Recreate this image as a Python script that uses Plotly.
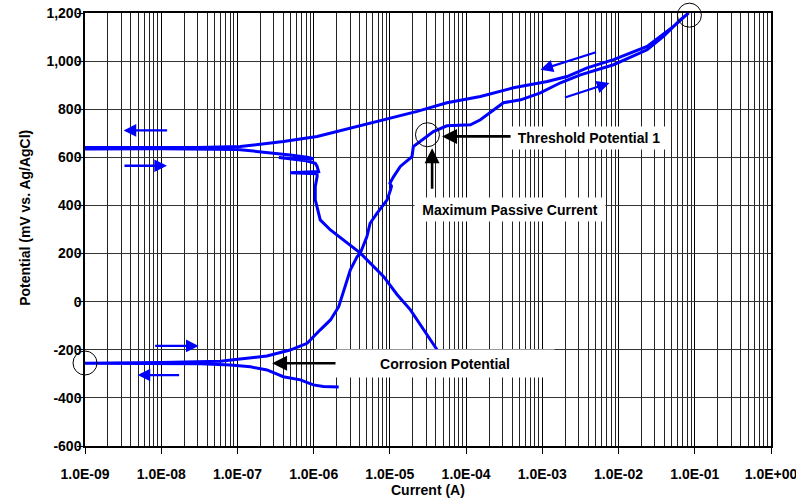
import math
import plotly.graph_objects as go

# ---- polarization curve (current in A, potential in mV vs Ag/AgCl), in scan order ----
current_A = [
    2.13e-6, 1.34e-6, 9.9e-7, 6.7e-7, 4.0e-7, 2.44e-7, 1.48e-7, 8.1e-8, 3.3e-8, 1.0e-8,
    1.0e-9, 1.0e-8, 3.0e-8, 6.0e-8, 8.8e-8, 2.44e-7, 4.9e-7, 8.2e-7, 1.22e-6, 1.66e-6,
    2.13e-6, 2.48e-6, 3.03e-6, 3.72e-6, 4.1e-6, 5.0e-6, 5.5e-6, 6.8e-6, 9.2e-6, 1.02e-5,
    1.05e-5, 1.0e-5, 1.12e-5, 1.37e-5, 1.95e-5, 2.03e-5, 3.08e-5, 3.72e-5, 5.6e-5, 1.14e-4,
    1.54e-4, 2.28e-4, 3.09e-4, 5.2e-4, 9.4e-4, 1.73e-3, 3.16e-3, 8.6e-3, 2.37e-2, 3.88e-2,
    6.5e-2, 8.3e-2,
    5.25e-2, 2.37e-2, 8.6e-3, 3.87e-3, 2.11e-3, 1.16e-3, 4.18e-4, 1.54e-4, 5.6e-5, 2.28e-5,
    8.2e-6, 3.03e-6, 1.11e-6, 4.0e-7, 1.48e-7, 1.09e-7, 3.0e-8, 1.0e-9, 1.0e-9, 1.0e-8,
    1.0e-7, 2.0e-7, 2.99e-7, 4.9e-7, 8.2e-7, 1.0e-6, 6.0e-7, 3.5e-7, 8.0e-7, 1.05e-6,
    1.11e-6, 1.16e-6, 4.9e-7, 1.11e-6, 1.11e-6, 1.05e-6, 1.05e-6, 1.22e-6, 1.66e-6, 2.48e-6,
    4.1e-6, 8.3e-6, 1.24e-5, 1.86e-5, 4.16e-5,
]
potential_mV = [
    -355, -353, -346, -325, -312, -284, -271, -263, -258, -257,
    -256, -253, -251, -248, -241, -226, -201, -173, -117, -76,
    -21, 49, 132, 187, 202, 271, 326, 368, 423, 465,
    480, 492, 520, 562, 603, 645, 687, 707, 731, 735,
    756, 798, 827, 839, 868, 910, 943, 985, 1047, 1103,
    1172, 1200,
    1144, 1061, 1006, 972, 936, 915, 889, 853, 827, 791,
    756, 723, 687, 666, 652, 645, 641, 641, 635, 636,
    633, 624, 618, 610, 600, 594, 593, 599, 586, 575,
    562, 541, 536, 532, 520, 479, 423, 340, 298, 257,
    202, 104, 30, -34, -200,
]

# ---- axis ticks ----
x_tick_vals = [1e-9, 1e-8, 1e-7, 1e-6, 1e-5, 1e-4, 1e-3, 1e-2, 1e-1, 1e0]
x_tick_text = ["1.0E-09", "1.0E-08", "1.0E-07", "1.0E-06", "1.0E-05",
               "1.0E-04", "1.0E-03", "1.0E-02", "1.0E-01", "1.0E+00"]
y_tick_vals = [-600, -400, -200, 0, 200, 400, 600, 800, 1000, 1200]
y_tick_text = ["-600", "-400", "-200", "0", "200", "400", "600", "800", "1,000", "1,200"]

# ---- highlighted points (open circles) ----
circle_I = [1e-9, 3.11e-5, 8.5e-2]
circle_E = [-255, 694, 1191]

# ---- blue scan-direction arrows: head (I, E) and tail offset (px) ----
blue_head_I = [3.21e-9, 1.19e-8, 3.1e-8, 4.9e-9, 9.44e-4, 7.6e-3]
blue_head_E = [712, 565, -184, -305, 964, 909]
blue_ax = [45, -44, -45, 43, 57, -46]
blue_ay = [0, 0, 0, 0, -18, 15]

# ---- black pointer arrows ----
black_head_I = [4.84e-5, 3.58e-5, 2.85e-7]
black_head_E = [687, 638, -256]
black_ax = [70, 0, 72]
black_ay = [0, 42, 0]

# ---- labels ----
label_text = ["Threshold Potential 1", "Maximum Passive Current", "Corrosion Potential"]
label_I = [4.08e-3, 3.8e-4, 5.35e-5]
label_E = [681, 384, -259]
label_w = [150, 186, 214]
label_h = [18, 19, 23]

FONT = "Liberation Sans, Arial, sans-serif"
BLUE = "#0000ff"

fig = go.Figure()
fig.add_trace(go.Scatter(
    x=current_A, y=potential_mV, mode="lines",
    line=dict(color=BLUE, width=3), showlegend=False, hoverinfo="skip",
))
fig.add_trace(go.Scatter(
    x=circle_I, y=circle_E, mode="markers", cliponaxis=False,
    marker=dict(symbol="circle-open", size=24, color="black", line=dict(width=1, color="black")),
    showlegend=False, hoverinfo="skip",
))

annotations = []
for i, e, ax, ay in zip(blue_head_I, blue_head_E, blue_ax, blue_ay):
    annotations.append(dict(
        x=math.log10(i), y=e, xref="x", yref="y", text="", showarrow=True,
        ax=ax, ay=ay, arrowhead=2, arrowsize=1.1, arrowwidth=2.3, arrowcolor=BLUE,
    ))
for i, e, ax, ay in zip(black_head_I, black_head_E, black_ax, black_ay):
    annotations.append(dict(
        x=math.log10(i), y=e, xref="x", yref="y", text="", showarrow=True,
        ax=ax, ay=ay, arrowhead=2, arrowsize=1.15, arrowwidth=2.6, arrowcolor="black",
    ))
for t, i, e, w, h in zip(label_text, label_I, label_E, label_w, label_h):
    annotations.append(dict(
        x=math.log10(i), y=e, xref="x", yref="y", text="<b>%s</b>" % t, showarrow=False,
        bgcolor="white", width=w, height=h, borderpad=2,
        font=dict(family=FONT, size=14, color="black"),
    ))
# axis titles
annotations.append(dict(
    x=-0.0875, y=0.527, xref="paper", yref="paper", text="<b>Potential (mV vs. Ag/AgCl)</b>",
    textangle=-90, showarrow=False, xanchor="center", yanchor="middle",
    font=dict(family=FONT, size=14, color="black"),
))
annotations.append(dict(
    x=0.5, y=-0.1016, xref="paper", yref="paper", text="<b>Current (A)</b>",
    showarrow=False, xanchor="center", yanchor="middle",
    font=dict(family=FONT, size=14, color="black"),
))

fig.update_layout(
    width=796, height=501,
    margin=dict(l=85, r=25, t=13, b=55, autoexpand=False),
    paper_bgcolor="white", plot_bgcolor="white",
    annotations=annotations,
    xaxis=dict(
        type="log", range=[-9, 0], automargin=False,
        tickmode="array", tickvals=x_tick_vals, ticktext=x_tick_text,
        tickfont=dict(family=FONT, size=14, color="black", weight="bold"),
        ticks="outside", ticklen=6, tickcolor="black", tickwidth=1,
        ticklabelstandoff=8, ticklabeloverflow="allow",
        showgrid=True, gridcolor="black", gridwidth=1,
        minor=dict(tickmode="linear", dtick="D1", showgrid=True, gridcolor="#222222",
                   gridwidth=1, ticks=""),
        showline=True, linecolor="black", linewidth=2, mirror=True,
        zeroline=False,
    ),
    yaxis=dict(
        range=[-600, 1200], automargin=False,
        tickmode="array", tickvals=y_tick_vals, ticktext=y_tick_text,
        tickfont=dict(family=FONT, size=14, color="black", weight="bold"),
        ticks="outside", ticklen=6, tickcolor="black", tickwidth=1,
        ticklabelstandoff=-7, ticklabeloverflow="allow",
        showgrid=True, gridcolor="#333333", gridwidth=1,
        showline=True, linecolor="black", linewidth=1.5, mirror=True,
        zeroline=False,
    ),
)

# remove the default page margin so the 796x501 figure fills the window exactly
fig.write_html("out.html", config={"displayModeBar": False},
               post_script="document.body.style.margin='0';")
